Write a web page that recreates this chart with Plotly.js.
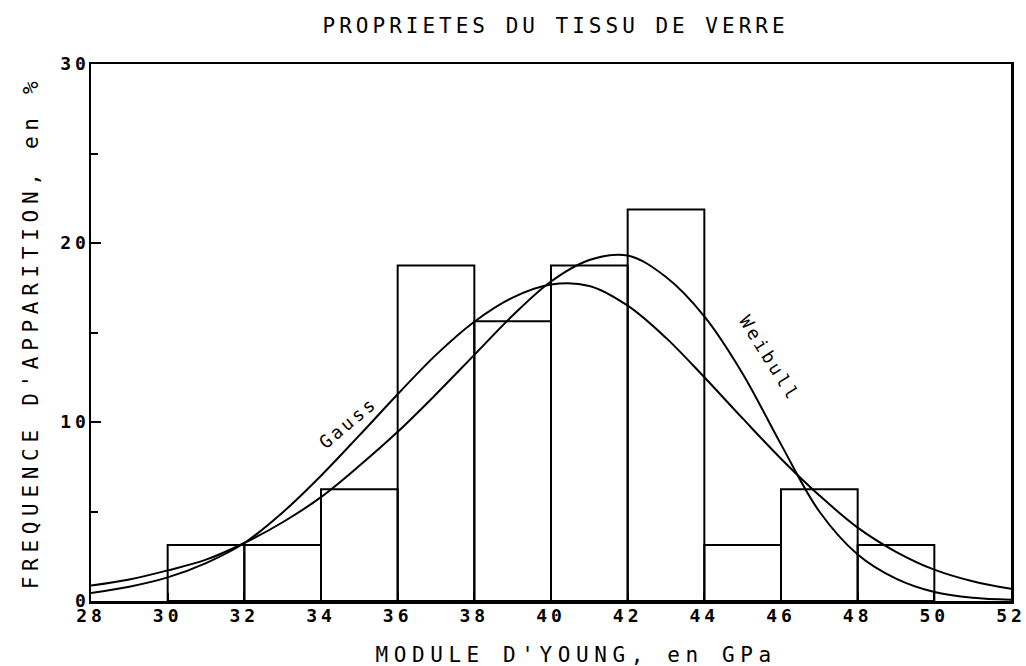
<!DOCTYPE html>
<html>
<head>
<meta charset="utf-8">
<script src="https://cdn.plot.ly/plotly-3.0.1.min.js"></script>
<style>
  html, body { margin: 0; padding: 0; background: #fff; }
  #chart { width: 1026px; height: 666px; }
  .gtitle { letter-spacing: 4px; }
  .ytitle { letter-spacing: 5.7px; }
  .xtick text, .ytick text { letter-spacing: 4px; }
  .annotation-text { letter-spacing: 3px; }
  .annotation[data-index="0"] .annotation-text { letter-spacing: 5.6px; }
</style>
</head>
<body>
<div id="chart"></div>
<script>
// Histogram: class centres (GPa) and frequency (%)
var binCenters = [31, 33, 35, 37, 39, 41, 43, 45, 47, 49];
var binFreq = [3.125, 3.125, 6.25, 18.75, 15.625, 18.75, 21.875, 3.125, 6.25, 3.125];

// Fitted curves
var curveX = [28, 29, 30, 31, 32, 33, 34, 35, 36, 37, 38, 39, 40, 41, 42, 43, 44, 45, 46, 47, 48, 49, 50, 51, 52];
var gaussY = [0.45, 0.8, 1.32, 2.12, 3.24, 4.95, 7.0, 9.25, 11.55, 13.75, 15.6, 16.95, 17.68, 17.6, 16.5, 14.7, 12.5, 10.2, 7.95, 5.9, 4.1, 2.75, 1.75, 1.1, 0.68];
var weibullY = [0.86, 1.2, 1.71, 2.31, 3.24, 4.4, 5.8, 7.55, 9.45, 11.55, 13.75, 15.95, 17.85, 19.05, 19.3, 18.1, 15.9, 12.7, 8.75, 5.0, 2.6, 1.25, 0.5, 0.18, 0.07];

var xTicks = [28, 30, 32, 34, 36, 38, 40, 42, 44, 46, 48, 50, 52];
var yTicks = [0, 10, 20, 30];

var FONT = '"DejaVu Sans Mono", "Liberation Mono", monospace';

var traces = [
  {
    type: 'bar', x: binCenters, y: binFreq, width: 2,
    marker: { color: 'rgba(255,255,255,0)', line: { color: '#000', width: 2 } },
    hoverinfo: 'x+y', showlegend: false
  },
  {
    type: 'scatter', mode: 'lines', x: curveX, y: gaussY, name: 'Gauss',
    line: { color: '#000', width: 2, shape: 'spline', smoothing: 1 }, showlegend: false
  },
  {
    type: 'scatter', mode: 'lines', x: curveX, y: weibullY, name: 'Weibull',
    line: { color: '#000', width: 2, shape: 'spline', smoothing: 1 }, showlegend: false
  }
];

var layout = {
  width: 1026, height: 666,
  margin: { l: 91, r: 15, t: 64, b: 65 },
  paper_bgcolor: '#fff', plot_bgcolor: '#fff',
  font: { family: FONT, color: '#000', size: 18 },
  title: {
    text: 'PROPRIETES DU TISSU DE VERRE',
    font: { family: FONT, size: 21, color: '#000' },
    x: 0.505, xref: 'paper', xanchor: 'center',
    y: 0.961, yref: 'container', yanchor: 'middle'
  },
  xaxis: {
    range: [28, 52], tickvals: xTicks, ticktext: xTicks.map(String),
    showline: true, mirror: true, linecolor: '#000', linewidth: 2.5,
    ticks: 'inside', ticklen: 8, tickwidth: 2, tickcolor: '#000',
    ticklabelstandoff: -3,
    showgrid: false, zeroline: false,
    tickfont: { family: FONT, size: 18, color: '#000', weight: 'bold' }
  },
  yaxis: {
    range: [0, 30], tickvals: yTicks, ticktext: yTicks.map(String),
    showline: true, mirror: true, linecolor: '#000', linewidth: 2.5,
    ticks: 'inside', ticklen: 10, tickwidth: 2, tickcolor: '#000',
    ticklabelstandoff: -5,
    minor: { dtick: 5, ticks: 'inside', ticklen: 7, tickwidth: 2, tickcolor: '#000', showgrid: false },
    showgrid: false, zeroline: false,
    tickfont: { family: FONT, size: 18, color: '#000', weight: 'bold' },
    title: { text: "FREQUENCE D'APPARITION, en %", font: { family: FONT, size: 21, color: '#000' }, standoff: 16 }
  },
  annotations: [
    {
      text: "MODULE D'YOUNG, en GPa", xref: 'paper', yref: 'paper',
      x: 0.527, y: -0.1, xanchor: 'center', yanchor: 'middle', showarrow: false,
      font: { family: FONT, size: 21, color: '#000' }
    },
    {
      text: 'Gauss', x: 34.7, y: 10.0, xref: 'x', yref: 'y', showarrow: false,
      textangle: -40, font: { family: FONT, size: 18, color: '#000' }
    },
    {
      text: 'Weibull', x: 45.71, y: 13.55, xref: 'x', yref: 'y', showarrow: false,
      textangle: 58, font: { family: FONT, size: 18, color: '#000' }
    }
  ]
};

Plotly.newPlot('chart', traces, layout, { staticPlot: true, displayModeBar: false });
</script>
</body>
</html>
